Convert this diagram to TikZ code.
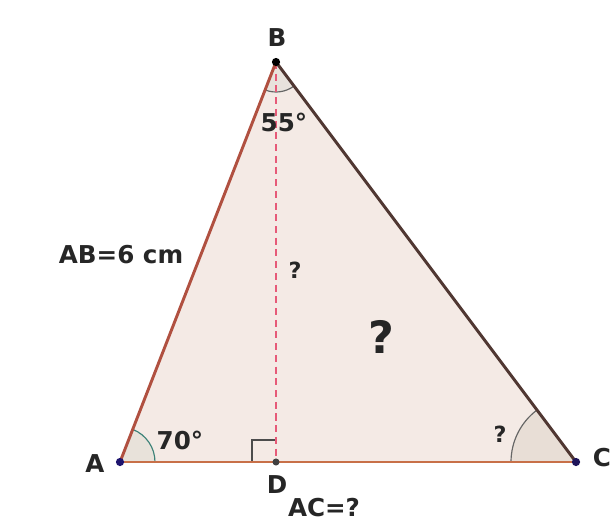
\documentclass[tikz,border=0pt]{standalone}
\usepackage{fontspec}
\setmainfont{DejaVu Sans}
\usetikzlibrary{calc}
\definecolor{trifill}{RGB}{244,234,229}
\definecolor{secC}{RGB}{232,222,214}
\definecolor{secA}{RGB}{232,226,218}
\definecolor{secB}{RGB}{232,226,220}
\definecolor{arcA}{RGB}{60,130,120}
\definecolor{hcol}{RGB}{230,90,120}
\definecolor{abcol}{RGB}{176,80,64}
\definecolor{bccol}{RGB}{80,55,50}
\definecolor{accol}{RGB}{200,112,72}
\definecolor{dotA}{RGB}{30,20,110}
\definecolor{dotC}{RGB}{30,20,90}
\begin{document}
\begin{tikzpicture}[x=0.03cm,y=-0.03cm,
  lbl/.style={font=\bfseries\fontsize{21}{23}\selectfont, text=black!85, inner sep=0pt},
  qsm/.style={lbl, font=\bfseries\fontsize{19}{21}\selectfont},
  dot/.style={circle, fill=#1, inner sep=0pt, minimum size=7pt},
]
\useasboundingbox (0,0) rectangle (615,527);
\fill[white] (0,0) rectangle (615,527);
% points
\coordinate (A) at (120,462);
\coordinate (B) at (276,62);
\coordinate (C) at (576,462);
\coordinate (D) at (276,462);
% triangle fill
\fill[trifill] (A) -- (B) -- (C) -- cycle;
% angle sectors
\fill[secC] (C) -- ++(180:65) arc[start angle=180, end angle=233.1, radius=65] -- cycle;
\fill[secA] (A) -- ++(0:35) arc[start angle=0, end angle=-68.7, radius=35] -- cycle;
\fill[secB] (B) -- ++(111.3:30) arc[start angle=111.3, end angle=53.1, radius=30] -- cycle;
% arcs
\draw[line width=1pt, arcA] ($(A)+(0:35)$) arc[start angle=0, end angle=-68.7, radius=35];
\draw[line width=1pt, gray!80!black] ($(B)+(111.3:30)$) arc[start angle=111.3, end angle=53.1, radius=30];
\draw[line width=1pt, gray!80!black] ($(C)+(180:65)$) arc[start angle=180, end angle=233.1, radius=65];
% right angle
\draw[line width=1pt, black!70] (D) ++(-24,0) -- ++(0,-22) -- ++(24,0);
% height
\draw[line width=1.6pt, hcol, dash pattern=on 6pt off 4pt] (B) -- (D);
% sides
\draw[line width=2.5pt, abcol] (A) -- (B);
\draw[line width=2.5pt, bccol] (B) -- (C);
\draw[line width=2.5pt, accol] (A) -- (C);
% dots
\node[dot=dotA] (nA) at (A) {};
\node[dot=black] (nB) at (B) {};
\node[dot=dotC] (nC) at (C) {};
\node[dot=black!75, minimum size=6pt] (nD) at (D) {};
% labels
\node[lbl] (lB) at (277,38) {B};
\node[lbl] (lA) at (95,464) {A};
\node[lbl] (lC) at (602,458) {C};
\node[lbl] (lD) at (277,485) {D};
\node[lbl] (l55) at (284,122) {55°};
\node[lbl] (l70) at (180,440) {70°};
\node[lbl] (lAB) at (121,255) {AB=6 cm};
\node[lbl] (lAC) at (324,508) {AC=?};
\node[qsm] (lh) at (295,270) {?};
\node[qsm] (lq) at (500,434) {?};
\node[lbl, font=\bfseries\fontsize{38}{42}\selectfont] (big) at (381,337) {?};
\end{tikzpicture}
\end{document}
